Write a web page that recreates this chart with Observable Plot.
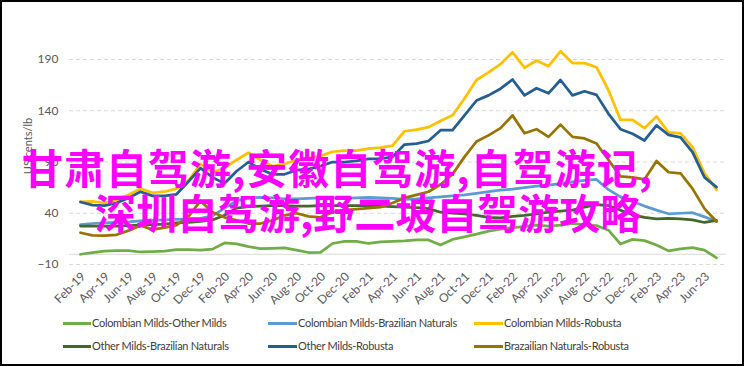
<!DOCTYPE html>
<html><head><meta charset="utf-8">
<script src="https://cdn.jsdelivr.net/npm/d3@7"></script>
<script src="https://cdn.jsdelivr.net/npm/@observablehq/plot@0.6"></script>
<style>
body{margin:0;background:#fff;}
#wrap{position:relative;width:744px;height:366px;overflow:hidden;font-family:Lato,"Liberation Sans",sans-serif;background:#fff;}
#frame{position:absolute;left:0;top:0;width:744px;height:366px;box-sizing:border-box;border:2px solid #000;pointer-events:none;}
.lg{position:absolute;font-size:11px;line-height:14px;color:#404040;white-space:nowrap;letter-spacing:-0.3px;}
.sw{position:absolute;height:3px;}
svg{position:absolute;left:0;top:0;}
</style>
</head><body>
<div id="wrap"></div>
<script>
const months = ["Feb-19","Mar-19","Apr-19","May-19","Jun-19","Jul-19","Aug-19","Sep-19","Oct-19","Nov-19","Dec-19",
"Jan-20","Feb-20","Mar-20","Apr-20","May-20","Jun-20","Jul-20","Aug-20","Sep-20","Oct-20","Nov-20","Dec-20",
"Jan-21","Feb-21","Mar-21","Apr-21","May-21","Jun-21","Jul-21","Aug-21","Sep-21","Oct-21","Nov-21","Dec-21",
"Jan-22","Feb-22","Mar-22","Apr-22","May-22","Jun-22","Jul-22","Aug-22","Sep-22","Oct-22","Nov-22","Dec-22",
"Jan-23","Feb-23","Mar-23","Apr-23","May-23","Jun-23","Jul-23"];
const xTickLabels = months.filter((m, i) => i % 2 === 0);
const yTicks = [-10, 40, 90, 140, 190];
const seriesNames = ["Colombian Milds-Other Milds","Colombian Milds-Brazilian Naturals","Colombian Milds-Robusta",
"Other Milds-Brazilian Naturals","Other Milds-Robusta","Brazailian Naturals-Robusta"];
const seriesColors = ["#70AD47","#5B9BD5","#FFC000","#43682B","#255E91","#997300"];

const colMildsOtherMilds = [0,1.5,3,3.5,3.5,2.2,2.5,3,4.4,4.4,4,5,11,10.2,7.5,5.4,5.8,6.3,4,1.7,1.8,10.5,12.5,12.5,10.5,12,12.5,13,14,14,9,14.5,17,19.6,22.5,24.5,26,27,28.5,27.5,28.5,30,29,28,23.5,10,14.5,13.3,9,3.3,5.3,6.5,4,-3.5];
const colMildsBrazNat = [29,30,30.5,31,31.5,32.5,33,33.5,34,34.5,35,37.5,
45,52,55,55.5,55,54,54,54.5,55,55,54.5,55,55.5,
55,54.5,53.5,54,55,56,57,58,59.5,61,62.5,63.5,65,66.5,67.5,69,70.5,72,73,
63,56,51.5,47,43,39.5,40,40.5,36.5,32];
const colMildsRobusta = [51,51.5,50,53,58,64,60,61,64,72,88,80,
84,92,99,92,86,88,92,94,96,100,101,101,103,
104,106,120,121.5,124,130,135.5,152,170,177.5,185.5,197,
182,189,183.5,198,186.5,186.5,182.5,160,131,131,123,134.5,119,118,104.5,79,63];
const otherMildsBrazNat = [27.5,27.5,27.5,27.5,28,28.5,29,29.5,30.5,31,32,33.5,
38,45,46.5,47,47.5,47.5,47,47,47.5,47.5,47.5,47.5,47.5,
47,46.5,46,45.5,44.5,41,40,39.5,38,36,35.5,37,38,39.5,41,42,43,46,48.5,
47.5,43,38.5,36,34.5,35,34.5,33.5,31,33];
const otherMildsRobusta = [51,48,47.5,50,55,61,57,57,58.5,71,84,75,
69,81,90,83,78,78,82,83,86,90,90,91,93,
93,95,107,108,110.5,121,121,135.5,150,155,161.5,170.5,
155,162,157,170,155,159,155.5,137,122,117.5,111,125.7,116.5,114,99.6,75,65.5];
const brazNatRobusta = [21,18.5,18.2,19,23,28,24,26,28.5,37,52,41,36,
33,30,30,33,38,40,37,36,41,43,44,45,46,50,55,
58,61,68,78,95,110,116,123,135.5,
118,122,114.5,126.5,114.5,113,108,92,76,75,73,91,80,79,64,44.5,32];

const overlayLine1 = "甘肃自驾游,安徽自驾游,自驾游记,";
const overlayLine2 = "深圳自驾游,野二坡自驾游攻略";
const yTitle = "US cents/lb";

const seriesValues = [colMildsOtherMilds, colMildsBrazNat, colMildsRobusta, otherMildsBrazNat, otherMildsRobusta, brazNatRobusta];
const rows = [];
seriesNames.forEach((s, k) => seriesValues[k].forEach((v, i) => rows.push({series: s, month: months[i], value: v})));

const chart = Plot.plot({
  width: 744, height: 366,
  marginLeft: 69, marginRight: 18, marginTop: 59, marginBottom: 102,
  style: {color: "#595959", fontFamily: "Lato, 'Liberation Sans', sans-serif", fontSize: "12px", background: "transparent"},
  x: {type: "point", domain: months, padding: 0},
  y: {domain: [-10, 190]},
  color: {domain: seriesNames, range: seriesColors},
  marks: [
    Plot.gridY(yTicks, {stroke: "#d9d9d9", strokeOpacity: 1, strokeDasharray: "4,3", strokeWidth: 1}),
    Plot.ruleY([0], {stroke: "#d9d9d9", strokeOpacity: 1, strokeWidth: 1}),
    Plot.axisY(yTicks, {tickSize: 0, tickPadding: 11, fontSize: 12, label: null}),
    Plot.axisX(xTickLabels, {tickSize: 0, tickRotate: -45, tickPadding: 10, dx: 3, fontSize: 12, label: null}),
    Plot.line(rows, {x: "month", y: "value", z: "series", stroke: "series", strokeWidth: 2.75})
  ]
});
const wrap = document.getElementById("wrap");
wrap.appendChild(chart);

// y title
d3.select(chart).append("text")
  .attr("transform", "translate(28,146) rotate(-90)")
  .attr("text-anchor", "middle").attr("dy", "0.35em")
  .attr("fill", "#595959").attr("font-size", 11)
  .text(yTitle);

// legend
const cols = [[63, 92], [268, 298], [474, 504]];
const rowsY = [323, 346];
seriesNames.forEach((s, k) => {
  const c = cols[k % 3], ry = rowsY[Math.floor(k / 3)];
  const sw = document.createElement("div");
  sw.className = "sw"; sw.style.left = c[0] + "px"; sw.style.width = (c[1] - c[0] - 1) + "px";
  sw.style.top = (ry - 1.5) + "px"; sw.style.background = seriesColors[k];
  wrap.appendChild(sw);
  const t = document.createElement("div");
  t.className = "lg"; t.textContent = s; t.style.left = c[1] + "px"; t.style.top = (ry - 7) + "px";
  wrap.appendChild(t);
});

// overlay watermark text
const ov = d3.create("svg").attr("width", 744).attr("height", 366);
ov.append("text").attr("x", 22).attr("y", 184).text(overlayLine1)
  .attr("fill", "#ff00ff").attr("font-family", "'Noto Sans CJK SC'").attr("font-weight", 700)
  .attr("font-size", 41).attr("letter-spacing", 1);
ov.append("text").attr("x", 95).attr("y", 229).text(overlayLine2)
  .attr("fill", "#ff00ff").attr("font-family", "'Noto Sans CJK SC'").attr("font-weight", 700).attr("font-size", 41);
wrap.appendChild(ov.node());

const fr = document.createElement("div"); fr.id = "frame"; wrap.appendChild(fr);
</script>
</body></html>
